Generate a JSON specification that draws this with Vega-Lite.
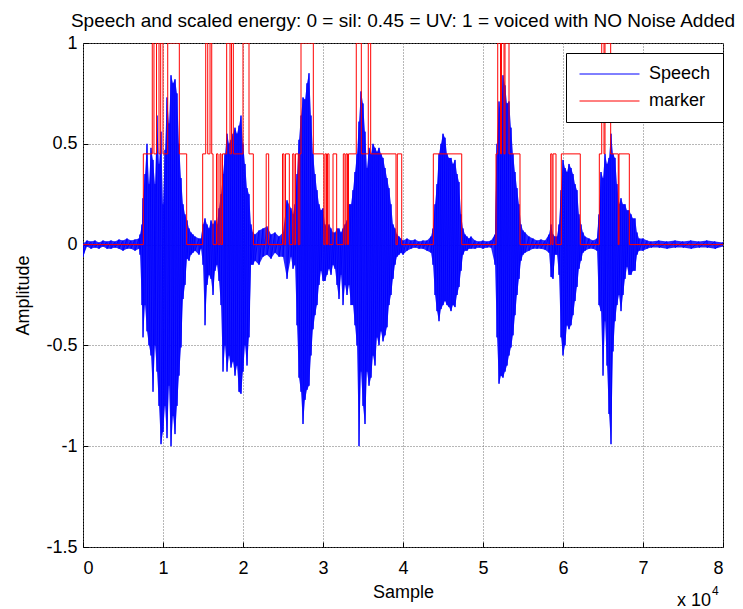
{
  "$schema": "https://vega.github.io/schema/vega-lite/v6.json",
  "width": 640,
  "height": 504,
  "autosize": {"type": "none"},
  "padding": {"left": 83, "top": 43, "right": 20, "bottom": 62},
  "background": "white",
  "title": {"text": "Speech and scaled energy: 0 = sil: 0.45 = UV: 1 = voiced with NO Noise Added", "font": "Liberation Sans", "fontSize": 19, "fontWeight": "normal", "color": "black", "frame": "group", "anchor": "middle", "offset": 3},
  "config": {
    "view": {"stroke": "black", "strokeWidth": 1},
    "axis": {"labelFont": "Liberation Sans", "titleFont": "Liberation Sans", "labelFontSize": 18, "titleFontSize": 18, "titleFontWeight": "normal", "labelColor": "black", "titleColor": "black", "domain": false, "grid": true, "gridColor": "#6f6f6f", "gridDash": [1, 2], "gridWidth": 1, "tickColor": "black", "tickSize": -5}
  },
  "datasets": {
    "speech": [
      {"s": 0, "hi": 0.005, "lo": -0.06}, {"s": 500, "hi": 0.02, "lo": -0.01}, {"s": 1000, "hi": 0.015, "lo": -0.02}, {"s": 1500, "hi": 0.02, "lo": -0.015}, {"s": 2000, "hi": 0.01, "lo": -0.02}, {"s": 2500, "hi": 0.02, "lo": -0.01}, {"s": 3000, "hi": 0.015, "lo": -0.02}, {"s": 3500, "hi": 0.02, "lo": -0.02}, {"s": 4000, "hi": 0.015, "lo": -0.015}, {"s": 4500, "hi": 0.025, "lo": -0.02}, {"s": 5000, "hi": 0.02, "lo": -0.03}, {"s": 5500, "hi": 0.03, "lo": -0.02}, {"s": 6000, "hi": 0.02, "lo": -0.02}, {"s": 6500, "hi": 0.025, "lo": -0.03}, {"s": 7000, "hi": 0.03, "lo": -0.02},
      {"s": 7125, "hi": 0.05, "lo": -0.05}, {"s": 7375, "hi": 0.1, "lo": -0.3}, {"s": 7500, "hi": 0.23, "lo": -0.46}, {"s": 7750, "hi": 0.35, "lo": -0.3}, {"s": 8000, "hi": 0.5, "lo": -0.43}, {"s": 8250, "hi": 0.3, "lo": -0.5}, {"s": 8500, "hi": 0.48, "lo": -0.55}, {"s": 8750, "hi": 0.42, "lo": -0.73}, {"s": 9000, "hi": 0.3, "lo": -0.5}, {"s": 9250, "hi": 0.64, "lo": -0.63}, {"s": 9500, "hi": 0.4, "lo": -0.8}, {"s": 9750, "hi": 0.56, "lo": -0.99}, {"s": 10000, "hi": 0.2, "lo": -0.93}, {"s": 10250, "hi": 0.47, "lo": -0.8}, {"s": 10500, "hi": 0.73, "lo": -0.96}, {"s": 10750, "hi": 0.6, "lo": -0.7}, {"s": 11000, "hi": 0.84, "lo": -1.0}, {"s": 11250, "hi": 0.8, "lo": -0.85}, {"s": 11500, "hi": 0.82, "lo": -0.94}, {"s": 11750, "hi": 0.75, "lo": -0.8}, {"s": 12000, "hi": 0.5, "lo": -0.65}, {"s": 12250, "hi": 0.33, "lo": -0.51}, {"s": 12500, "hi": 0.2, "lo": -0.27}, {"s": 12750, "hi": 0.15, "lo": -0.2}, {"s": 13000, "hi": 0.12, "lo": -0.07}, {"s": 13250, "hi": 0.08, "lo": -0.08}, {"s": 13500, "hi": 0.06, "lo": -0.05}, {"s": 13750, "hi": 0.05, "lo": -0.04}, {"s": 14000, "hi": 0.04, "lo": -0.03}, {"s": 14500, "hi": 0.03, "lo": -0.05}, {"s": 14750, "hi": 0.03, "lo": -0.02},
      {"s": 15000, "hi": 0.1, "lo": -0.1}, {"s": 15250, "hi": 0.13, "lo": -0.4}, {"s": 15500, "hi": 0.1, "lo": -0.2}, {"s": 15750, "hi": 0.08, "lo": -0.15}, {"s": 16000, "hi": 0.12, "lo": -0.17}, {"s": 16250, "hi": 0.1, "lo": -0.25}, {"s": 16500, "hi": 0.12, "lo": -0.13}, {"s": 16750, "hi": 0.1, "lo": -0.1}, {"s": 17000, "hi": 0.18, "lo": -0.18}, {"s": 17250, "hi": 0.25, "lo": -0.3}, {"s": 17500, "hi": 0.35, "lo": -0.63}, {"s": 17750, "hi": 0.45, "lo": -0.5}, {"s": 18000, "hi": 0.55, "lo": -0.63}, {"s": 18250, "hi": 0.5, "lo": -0.55}, {"s": 18500, "hi": 0.52, "lo": -0.61}, {"s": 18750, "hi": 0.55, "lo": -0.58}, {"s": 19000, "hi": 0.58, "lo": -0.65}, {"s": 19250, "hi": 0.55, "lo": -0.6}, {"s": 19500, "hi": 0.59, "lo": -0.73}, {"s": 19750, "hi": 0.64, "lo": -0.74}, {"s": 20000, "hi": 0.5, "lo": -0.63}, {"s": 20250, "hi": 0.4, "lo": -0.5}, {"s": 20500, "hi": 0.28, "lo": -0.6}, {"s": 20750, "hi": 0.25, "lo": -0.46}, {"s": 21000, "hi": 0.1, "lo": -0.1}, {"s": 21250, "hi": 0.06, "lo": -0.1},
      {"s": 21500, "hi": 0.05, "lo": -0.08}, {"s": 22000, "hi": 0.07, "lo": -0.1}, {"s": 22500, "hi": 0.08, "lo": -0.06}, {"s": 23000, "hi": 0.09, "lo": -0.05}, {"s": 23500, "hi": 0.05, "lo": -0.07}, {"s": 24000, "hi": 0.06, "lo": -0.04}, {"s": 24500, "hi": 0.04, "lo": -0.06}, {"s": 25000, "hi": 0.06, "lo": -0.06}, {"s": 25500, "hi": 0.22, "lo": -0.17}, {"s": 26000, "hi": 0.18, "lo": -0.06}, {"s": 26250, "hi": 0.15, "lo": -0.12}, {"s": 26500, "hi": 0.2, "lo": -0.1}, {"s": 26750, "hi": 0.35, "lo": -0.4},
      {"s": 27000, "hi": 0.52, "lo": -0.66}, {"s": 27250, "hi": 0.64, "lo": -0.73}, {"s": 27500, "hi": 0.73, "lo": -0.89}, {"s": 27750, "hi": 0.72, "lo": -0.77}, {"s": 28000, "hi": 0.8, "lo": -0.72}, {"s": 28250, "hi": 0.85, "lo": -0.7}, {"s": 28500, "hi": 0.64, "lo": -0.55}, {"s": 28750, "hi": 0.45, "lo": -0.42}, {"s": 29000, "hi": 0.35, "lo": -0.35}, {"s": 29250, "hi": 0.27, "lo": -0.3}, {"s": 29500, "hi": 0.2, "lo": -0.2}, {"s": 29750, "hi": 0.17, "lo": -0.13}, {"s": 30000, "hi": 0.18, "lo": -0.18}, {"s": 30250, "hi": 0.1, "lo": -0.18}, {"s": 30500, "hi": 0.08, "lo": -0.15}, {"s": 30750, "hi": 0.1, "lo": -0.12}, {"s": 31000, "hi": 0.08, "lo": -0.15}, {"s": 31250, "hi": 0.06, "lo": -0.1}, {"s": 31500, "hi": 0.06, "lo": -0.12}, {"s": 31750, "hi": 0.08, "lo": -0.2}, {"s": 32000, "hi": 0.08, "lo": -0.27}, {"s": 32250, "hi": 0.06, "lo": -0.15}, {"s": 32500, "hi": 0.08, "lo": -0.3}, {"s": 32750, "hi": 0.1, "lo": -0.2}, {"s": 33000, "hi": 0.12, "lo": -0.25}, {"s": 33250, "hi": 0.2, "lo": -0.2}, {"s": 33500, "hi": 0.2, "lo": -0.3}, {"s": 33750, "hi": 0.27, "lo": -0.3}, {"s": 34000, "hi": 0.36, "lo": -0.4}, {"s": 34250, "hi": 0.45, "lo": -0.5}, {"s": 34500, "hi": 0.61, "lo": -1.0}, {"s": 34750, "hi": 0.76, "lo": -0.63}, {"s": 35000, "hi": 0.7, "lo": -0.8}, {"s": 35250, "hi": 0.56, "lo": -0.89}, {"s": 35500, "hi": 0.38, "lo": -0.63}, {"s": 35750, "hi": 0.48, "lo": -0.7}, {"s": 36000, "hi": 0.45, "lo": -0.66}, {"s": 36250, "hi": 0.5, "lo": -0.55}, {"s": 36500, "hi": 0.48, "lo": -0.6}, {"s": 36750, "hi": 0.46, "lo": -0.46}, {"s": 37000, "hi": 0.48, "lo": -0.5}, {"s": 37250, "hi": 0.45, "lo": -0.43}, {"s": 37500, "hi": 0.43, "lo": -0.48}, {"s": 37750, "hi": 0.38, "lo": -0.45}, {"s": 38000, "hi": 0.33, "lo": -0.41}, {"s": 38250, "hi": 0.28, "lo": -0.3}, {"s": 38500, "hi": 0.2, "lo": -0.25}, {"s": 38750, "hi": 0.1, "lo": -0.17}, {"s": 39000, "hi": 0.08, "lo": -0.1}, {"s": 39250, "hi": 0.05, "lo": -0.06}, {"s": 39500, "hi": 0.04, "lo": -0.05}, {"s": 39750, "hi": 0.03, "lo": -0.04}, {"s": 40000, "hi": 0.02, "lo": -0.05}, {"s": 40500, "hi": 0.03, "lo": -0.03}, {"s": 41000, "hi": 0.02, "lo": -0.02}, {"s": 41500, "hi": 0.025, "lo": -0.015}, {"s": 42000, "hi": 0.015, "lo": -0.02}, {"s": 42500, "hi": 0.02, "lo": -0.02}, {"s": 43000, "hi": 0.02, "lo": -0.03}, {"s": 43500, "hi": 0.04, "lo": -0.04},
      {"s": 43750, "hi": 0.08, "lo": -0.1}, {"s": 44000, "hi": 0.2, "lo": -0.25}, {"s": 44250, "hi": 0.3, "lo": -0.33}, {"s": 44500, "hi": 0.45, "lo": -0.38}, {"s": 44750, "hi": 0.5, "lo": -0.32}, {"s": 45000, "hi": 0.55, "lo": -0.3}, {"s": 45250, "hi": 0.53, "lo": -0.28}, {"s": 45500, "hi": 0.45, "lo": -0.3}, {"s": 45750, "hi": 0.43, "lo": -0.31}, {"s": 46000, "hi": 0.43, "lo": -0.33}, {"s": 46250, "hi": 0.4, "lo": -0.3}, {"s": 46500, "hi": 0.42, "lo": -0.31}, {"s": 46750, "hi": 0.35, "lo": -0.25}, {"s": 47000, "hi": 0.31, "lo": -0.21}, {"s": 47250, "hi": 0.15, "lo": -0.13}, {"s": 47500, "hi": 0.08, "lo": -0.05}, {"s": 47750, "hi": 0.05, "lo": -0.03}, {"s": 48000, "hi": 0.04, "lo": -0.03}, {"s": 48250, "hi": 0.03, "lo": -0.02}, {"s": 48500, "hi": 0.04, "lo": -0.02}, {"s": 49000, "hi": 0.02, "lo": -0.02}, {"s": 49500, "hi": 0.015, "lo": -0.015}, {"s": 50000, "hi": 0.02, "lo": -0.02}, {"s": 50500, "hi": 0.015, "lo": -0.015}, {"s": 51000, "hi": 0.02, "lo": -0.015}, {"s": 51500, "hi": 0.05, "lo": -0.1},
      {"s": 51750, "hi": 0.5, "lo": -0.46}, {"s": 52000, "hi": 0.71, "lo": -0.69}, {"s": 52250, "hi": 0.64, "lo": -0.65}, {"s": 52500, "hi": 0.84, "lo": -0.66}, {"s": 52750, "hi": 0.79, "lo": -0.63}, {"s": 53000, "hi": 0.7, "lo": -0.6}, {"s": 53250, "hi": 0.71, "lo": -0.55}, {"s": 53500, "hi": 0.58, "lo": -0.51}, {"s": 53750, "hi": 0.45, "lo": -0.45}, {"s": 54000, "hi": 0.36, "lo": -0.35}, {"s": 54250, "hi": 0.28, "lo": -0.25}, {"s": 54500, "hi": 0.2, "lo": -0.17}, {"s": 54750, "hi": 0.1, "lo": -0.08}, {"s": 55000, "hi": 0.07, "lo": -0.05}, {"s": 55250, "hi": 0.06, "lo": -0.04}, {"s": 55750, "hi": 0.04, "lo": -0.03}, {"s": 56250, "hi": 0.03, "lo": -0.02}, {"s": 56750, "hi": 0.02, "lo": -0.02}, {"s": 57250, "hi": 0.025, "lo": -0.02}, {"s": 57750, "hi": 0.02, "lo": -0.025}, {"s": 58250, "hi": 0.05, "lo": -0.04}, {"s": 58500, "hi": 0.1, "lo": -0.16}, {"s": 58750, "hi": 0.05, "lo": -0.17}, {"s": 59000, "hi": 0.04, "lo": -0.05}, {"s": 59250, "hi": 0.04, "lo": -0.05}, {"s": 59500, "hi": 0.1, "lo": -0.15},
      {"s": 59750, "hi": 0.27, "lo": -0.46}, {"s": 60000, "hi": 0.42, "lo": -0.55}, {"s": 60250, "hi": 0.38, "lo": -0.5}, {"s": 60500, "hi": 0.36, "lo": -0.4}, {"s": 60750, "hi": 0.4, "lo": -0.42}, {"s": 61000, "hi": 0.38, "lo": -0.4}, {"s": 61250, "hi": 0.35, "lo": -0.35}, {"s": 61500, "hi": 0.3, "lo": -0.28}, {"s": 61750, "hi": 0.27, "lo": -0.21}, {"s": 62000, "hi": 0.15, "lo": -0.12}, {"s": 62250, "hi": 0.1, "lo": -0.08}, {"s": 62500, "hi": 0.06, "lo": -0.04}, {"s": 62750, "hi": 0.04, "lo": -0.03}, {"s": 63250, "hi": 0.03, "lo": -0.02}, {"s": 63750, "hi": 0.02, "lo": -0.02}, {"s": 64250, "hi": 0.03, "lo": -0.03}, {"s": 64500, "hi": 0.15, "lo": -0.3},
      {"s": 64750, "hi": 0.36, "lo": -0.33}, {"s": 65000, "hi": 0.33, "lo": -0.65}, {"s": 65250, "hi": 0.45, "lo": -0.38}, {"s": 65500, "hi": 0.4, "lo": -0.6}, {"s": 65750, "hi": 0.43, "lo": -0.84}, {"s": 66000, "hi": 0.55, "lo": -0.99}, {"s": 66250, "hi": 0.45, "lo": -0.53}, {"s": 66500, "hi": 0.43, "lo": -0.38}, {"s": 66750, "hi": 0.3, "lo": -0.3}, {"s": 67000, "hi": 0.2, "lo": -0.25}, {"s": 67250, "hi": 0.23, "lo": -0.33}, {"s": 67500, "hi": 0.2, "lo": -0.25}, {"s": 67750, "hi": 0.2, "lo": -0.17}, {"s": 68000, "hi": 0.17, "lo": -0.11}, {"s": 68250, "hi": 0.17, "lo": -0.15}, {"s": 68500, "hi": 0.15, "lo": -0.15}, {"s": 68750, "hi": 0.13, "lo": -0.13}, {"s": 69000, "hi": 0.13, "lo": -0.13}, {"s": 69250, "hi": 0.06, "lo": -0.05}, {"s": 69500, "hi": 0.03, "lo": -0.03}, {"s": 70000, "hi": 0.03, "lo": -0.03}, {"s": 70500, "hi": 0.02, "lo": -0.02}, {"s": 71000, "hi": 0.015, "lo": -0.015}, {"s": 72000, "hi": 0.02, "lo": -0.015}, {"s": 73000, "hi": 0.015, "lo": -0.02}, {"s": 74000, "hi": 0.02, "lo": -0.015}, {"s": 75000, "hi": 0.015, "lo": -0.015}, {"s": 76000, "hi": 0.02, "lo": -0.02}, {"s": 77000, "hi": 0.015, "lo": -0.015}, {"s": 78000, "hi": 0.02, "lo": -0.015}, {"s": 79000, "hi": 0.015, "lo": -0.02}, {"s": 80000, "hi": 0.01, "lo": -0.01}
    ],
    "marker": [
      {"s": 0, "m": 0}, {"s": 7540, "m": 0.45}, {"s": 8660, "m": 1}, {"s": 8870, "m": 0.45}, {"s": 9190, "m": 1}, {"s": 9500, "m": 0.45}, {"s": 9710, "m": 1}, {"s": 10000, "m": 0.45}, {"s": 10590, "m": 1}, {"s": 12040, "m": 0.45}, {"s": 12960, "m": 0}, {"s": 14960, "m": 0.45}, {"s": 15340, "m": 1}, {"s": 15590, "m": 0.45}, {"s": 15880, "m": 1}, {"s": 16090, "m": 0.45}, {"s": 16250, "m": 0}, {"s": 16690, "m": 0.45}, {"s": 16875, "m": 0}, {"s": 17125, "m": 0.45}, {"s": 17250, "m": 0}, {"s": 17440, "m": 0.45}, {"s": 17960, "m": 1}, {"s": 18375, "m": 0.45}, {"s": 18560, "m": 1}, {"s": 18790, "m": 0.45}, {"s": 20000, "m": 1}, {"s": 20750, "m": 0.45}, {"s": 21290, "m": 0}, {"s": 22900, "m": 0.45}, {"s": 23210, "m": 0}, {"s": 24940, "m": 0.45}, {"s": 25120, "m": 0}, {"s": 25310, "m": 0.45}, {"s": 25790, "m": 0}, {"s": 26210, "m": 0.45}, {"s": 26380, "m": 0}, {"s": 26560, "m": 0.45}, {"s": 26910, "m": 0}, {"s": 27100, "m": 0.45}, {"s": 27250, "m": 1}, {"s": 28790, "m": 0.45}, {"s": 30100, "m": 0}, {"s": 30250, "m": 0.45}, {"s": 30440, "m": 0}, {"s": 30560, "m": 0.45}, {"s": 30750, "m": 0}, {"s": 31250, "m": 0.45}, {"s": 31710, "m": 0}, {"s": 32540, "m": 0.45}, {"s": 32750, "m": 0}, {"s": 32875, "m": 0.45}, {"s": 33060, "m": 0}, {"s": 33190, "m": 0.45}, {"s": 34160, "m": 1}, {"s": 34790, "m": 0.45}, {"s": 35660, "m": 1}, {"s": 35960, "m": 0.45}, {"s": 39125, "m": 0}, {"s": 39290, "m": 0.45}, {"s": 39840, "m": 0}, {"s": 43790, "m": 0.45}, {"s": 47340, "m": 0}, {"s": 51625, "m": 0.45}, {"s": 51840, "m": 1}, {"s": 52190, "m": 0.45}, {"s": 52310, "m": 1}, {"s": 52625, "m": 0.45}, {"s": 52750, "m": 1}, {"s": 53250, "m": 0.45}, {"s": 54625, "m": 0}, {"s": 58460, "m": 0.45}, {"s": 58625, "m": 0}, {"s": 58750, "m": 0.45}, {"s": 59125, "m": 0}, {"s": 59790, "m": 0.45}, {"s": 62160, "m": 0}, {"s": 64540, "m": 0.45}, {"s": 64840, "m": 1}, {"s": 65125, "m": 0.45}, {"s": 65250, "m": 1}, {"s": 65960, "m": 0.45}, {"s": 66910, "m": 0}, {"s": 67000, "m": 0.45}, {"s": 68290, "m": 0}, {"s": 80000, "m": 0}
    ]
  },
  "encoding": {
    "x": {"type": "quantitative", "scale": {"domain": [0, 80000], "nice": false, "zero": false}, "axis": {"title": "Sample", "values": [0, 10000, 20000, 30000, 40000, 50000, 60000, 70000, 80000], "labelExpr": "datum.value / 10000 + ''", "labelPadding": 17, "titlePadding": 6}},
    "y": {"type": "quantitative", "scale": {"domain": [-1.5, 1], "nice": false, "zero": false}, "axis": {"title": "Amplitude", "values": [-1.5, -1, -0.5, 0, 0.5, 1], "labelExpr": "datum.value + ''", "labelPadding": 11, "titlePadding": 13}}
  },
  "layer": [
    {
      "data": {"name": "speech"},
      "mark": {"type": "area", "color": "#0000ff", "opacity": 0.85, "clip": true},
      "encoding": {"x": {"field": "s", "type": "quantitative"}, "y": {"field": "hi", "type": "quantitative"}, "y2": {"field": "lo"}}
    },
    {
      "data": {"name": "speech"},
      "transform": [{"fold": ["hi", "lo"], "as": ["k", "v"]}],
      "mark": {"type": "line", "strokeWidth": 1, "clip": true},
      "encoding": {
        "x": {"field": "s", "type": "quantitative"},
        "y": {"field": "v", "type": "quantitative"},
        "order": {"value": null},
        "color": {"datum": "Speech", "type": "nominal", "scale": {"domain": ["Speech", "marker"], "range": ["#0000ff", "#ff0000"]}, "legend": {"title": null, "orient": "none", "legendX": 483, "legendY": 10, "symbolType": "M-1,0H7", "symbolSize": 225, "symbolStrokeWidth": 1, "labelFont": "Liberation Sans", "labelFontSize": 18, "labelColor": "black", "labelOffset": 53, "padding": 12, "rowPadding": 9, "strokeColor": "black", "fillColor": "white"}}
      }
    },
    {
      "data": {"name": "marker"},
      "mark": {"type": "line", "interpolate": "step-after", "strokeWidth": 1, "clip": true},
      "encoding": {
        "x": {"field": "s", "type": "quantitative"},
        "y": {"field": "m", "type": "quantitative"},
        "color": {"datum": "marker", "type": "nominal"}
      }
    },
    {
      "data": {"values": [{}]},
      "mark": {"type": "text", "text": "x 10", "font": "Liberation Sans", "fontSize": 18, "align": "right", "baseline": "middle", "dx": -12, "dy": 54, "color": "black"},
      "encoding": {"x": {"datum": 80000, "type": "quantitative"}, "y": {"datum": -1.5, "type": "quantitative"}}
    },
    {
      "data": {"values": [{}]},
      "mark": {"type": "text", "text": "4", "font": "Liberation Sans", "fontSize": 12, "align": "left", "baseline": "middle", "dx": -11, "dy": 44, "color": "black"},
      "encoding": {"x": {"datum": 80000, "type": "quantitative"}, "y": {"datum": -1.5, "type": "quantitative"}}
    }
  ]
}
